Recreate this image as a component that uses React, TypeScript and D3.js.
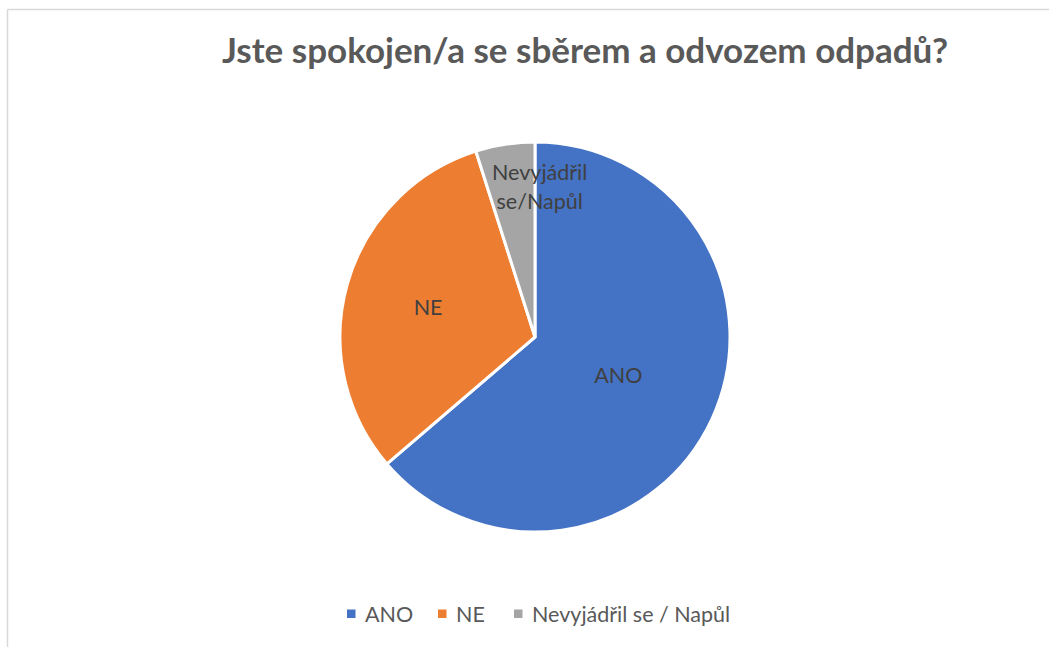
import React from "react";
import * as d3 from "d3";

const categories = ["ANO", "NE", "Nevyjádřil se / Napůl"];
const values = [65, 32, 5];
const sliceLabels = [["ANO"], ["NE"], ["Nevyjádřil", "se/Napůl"]];
const colors = ["#4472C4", "#ED7D31", "#A5A5A5"];

const W = 1049;
const H = 647;
const cx = 535;
const cy = 337;
const R = 195;
// where each data label sits: fraction of the radius, plus a sideways nudge
const labelFrac = [0.47, 0.57, 0.78];
const labelNudge = [0, 0, 28];

const App = () => {
  const data = categories.map((c, i) => ({ name: c, value: values[i], i }));
  const pie = d3.pie<any>().value(d => d.value).sort(null);
  const arcs = pie(data);
  const arc = d3.arc<any>().innerRadius(0).outerRadius(R);

  const legendPos = [347, 438, 514];

  return (
    <svg width={W} height={H} style={{ position: "absolute", left: 0, top: 0 }}
      fontFamily="Lato, 'Open Sans', sans-serif">
      <rect x={0} y={0} width={W} height={H} fill="white" />
      <line x1={7.5} y1={9.5} x2={W} y2={9.5} stroke="#d9d9d9" strokeWidth={1.5} />
      <line x1={7.5} y1={9.5} x2={7.5} y2={H} stroke="#d9d9d9" strokeWidth={1.5} />

      <text x={585} y={63} textAnchor="middle" fontSize={35} fontWeight="bold" fill="#595959"
        textLength={726} lengthAdjust="spacingAndGlyphs">
        Jste spokojen/a se sběrem a odvozem odpadů?
      </text>

      <g transform={`translate(${cx}, ${cy})`}>
        {arcs.map((a, i) => (
          <path key={i} d={arc(a) || ""} fill={colors[i]} stroke="white" strokeWidth={3} strokeLinejoin="round" />
        ))}
        {arcs.map((a, i) => {
          const mid = (a.startAngle + a.endAngle) / 2;
          const r = R * labelFrac[i];
          const x = Math.sin(mid) * r + labelNudge[i];
          const y = -Math.cos(mid) * r;
          const lines = sliceLabels[i];
          return (
            <text key={i} textAnchor="middle" fontSize={21.5} fill="#404040">
              {lines.map((l, j) => (
                <tspan key={j} x={x} y={y + 8 + (j - (lines.length - 1) / 2) * 29}>{l}</tspan>
              ))}
            </text>
          );
        })}
      </g>

      <g>
        {categories.map((c, i) => (
          <g key={c} transform={`translate(${legendPos[i]}, 614)`}>
            <rect x={0} y={-4.5} width={8.5} height={8.5} fill={colors[i]} />
            <text x={18} y={8} fontSize={21.5} fill="#595959">{c}</text>
          </g>
        ))}
      </g>
    </svg>
  );
};

export default App;
